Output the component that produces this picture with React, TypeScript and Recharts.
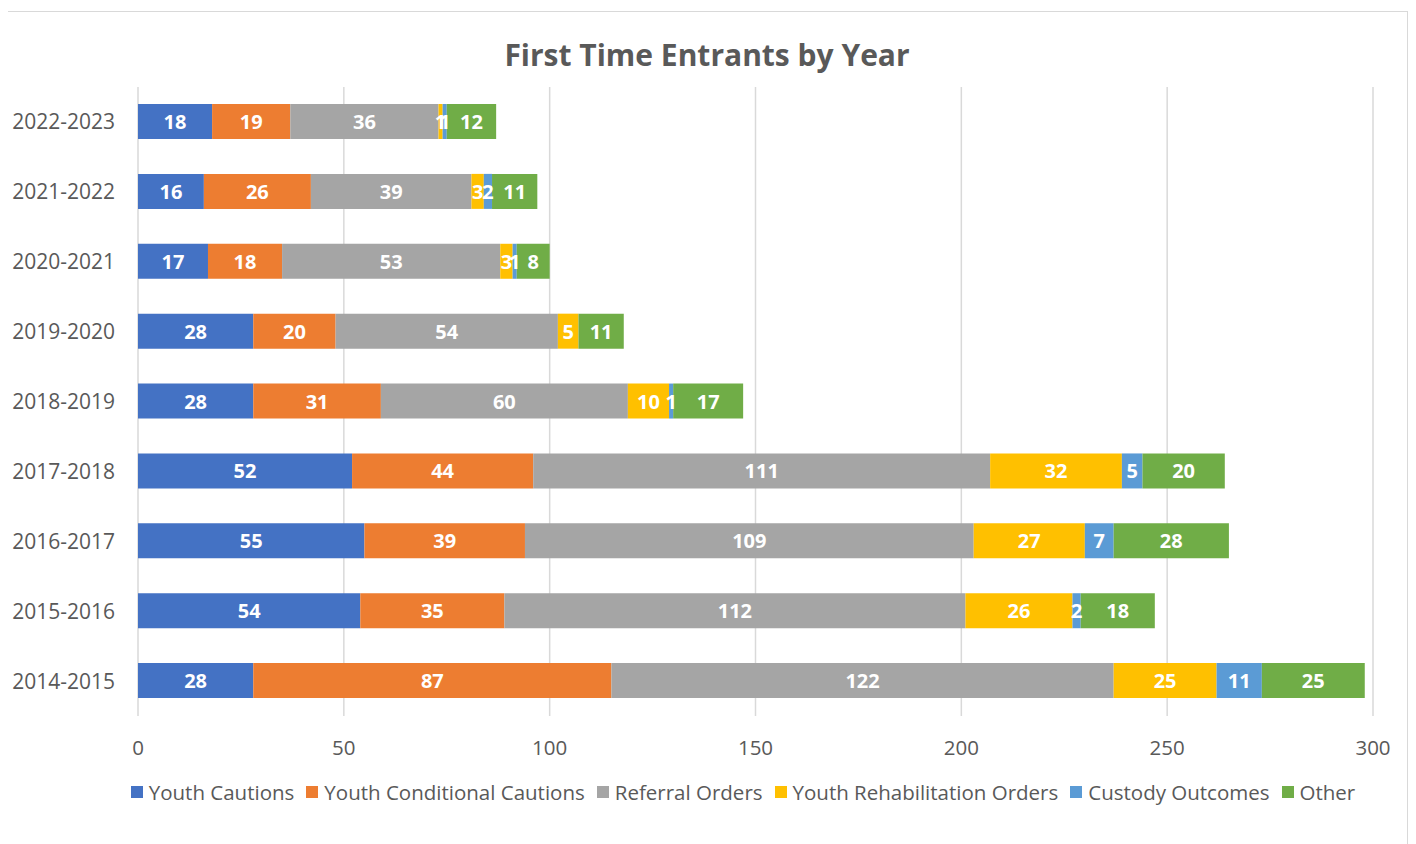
import * as React from "react"
import { Bar, BarChart, CartesianGrid, LabelList, Legend, XAxis, YAxis } from "recharts"

const years = ["2022-2023", "2021-2022", "2020-2021", "2019-2020", "2018-2019", "2017-2018", "2016-2017", "2015-2016", "2014-2015"]
const youthCautions = [18, 16, 17, 28, 28, 52, 55, 54, 28]
const conditionalCautions = [19, 26, 18, 20, 31, 44, 39, 35, 87]
const referralOrders = [36, 39, 53, 54, 60, 111, 109, 112, 122]
const rehabOrders = [1, 3, 3, 5, 10, 32, 27, 26, 25]
const custody = [1, 2, 1, 0, 1, 5, 7, 2, 11]
const other = [12, 11, 8, 11, 17, 20, 28, 18, 25]
const xTicks = [0, 50, 100, 150, 200, 250, 300]

const series = [
  { key: "yc", name: "Youth Cautions", values: youthCautions, color: "#4472C4" },
  { key: "ycc", name: "Youth Conditional Cautions", values: conditionalCautions, color: "#ED7D31" },
  { key: "ro", name: "Referral Orders", values: referralOrders, color: "#A5A5A5" },
  { key: "yro", name: "Youth Rehabilitation Orders", values: rehabOrders, color: "#FFC000" },
  { key: "co", name: "Custody Outcomes", values: custody, color: "#5B9BD5" },
  { key: "oth", name: "Other", values: other, color: "#70AD47" },
]

const data = years.map((y, i) => {
  const row: Record<string, any> = { year: y }
  series.forEach((s) => {
    row[s.key] = s.values[i]
  })
  return row
})

const font = "'Open Sans', 'Noto Sans', sans-serif"

function LegendContent() {
  return (
    <div style={{ display: "flex", justifyContent: "center", fontFamily: font, fontSize: 20.5, color: "#595959" }}>
      {series.map((s, i) => (
        <div key={s.key} style={{ display: "flex", alignItems: "center", marginLeft: i === 0 ? 0 : 12 }}>
          <span style={{ width: 12, height: 12, background: s.color, display: "inline-block", marginRight: 6 }} />
          <span>{s.name}</span>
        </div>
      ))}
    </div>
  )
}

function BarLabel(props: any) {
  const { x, y, width, height, value } = props
  if (!value) return null
  return (
    <text
      x={Number(x) + Number(width) / 2}
      y={Number(y) + Number(height) / 2}
      textAnchor="middle"
      dominantBaseline="central"
      fill="#fff"
      fontSize={20}
      fontWeight={700}
      fontFamily={font}
    >
      {value}
    </text>
  )
}

export default function App() {
  return (
    <div style={{ position: "relative", width: 1400, height: 840, border: "1px solid #d9d9d9", marginLeft: -2, marginTop: 3, background: "#fff" }}>
      <div style={{ position: "absolute", top: 22, left: 0, width: 1400, textAlign: "center", fontFamily: font, fontWeight: 700, fontSize: 30, color: "#595959" }}>
        First Time Entrants by Year
      </div>
      <BarChart
        width={1400}
        height={833}
        data={data}
        layout="vertical"
        margin={{ top: 75, right: 34, bottom: 61, left: 0 }}
        barSize={35}
      >
        <CartesianGrid horizontal={false} stroke="#d9d9d9" strokeWidth={1.5} />
        <XAxis
          type="number"
          domain={[0, 300]}
          ticks={xTicks}
          axisLine={false}
          tickLine={false}
          tickSize={0}
          tickMargin={24}
          height={40}
          tick={{ fill: "#595959", fontSize: 20.5, fontFamily: font }}
        />
        <YAxis
          type="category"
          dataKey="year"
          width={131}
          axisLine={false}
          tickLine={false}
          tickSize={0}
          tickMargin={23}
          tick={{ fill: "#595959", fontSize: 21, fontFamily: font }}
        />
        <Legend content={<LegendContent />} wrapperStyle={{ top: 766, left: 72, width: 1328 }} />
        {series.map((s) => (
          <Bar key={s.key} dataKey={s.key} name={s.name} stackId="a" fill={s.color} isAnimationActive={false}>
            <LabelList dataKey={s.key} content={<BarLabel />} />
          </Bar>
        ))}
      </BarChart>
    </div>
  )
}
